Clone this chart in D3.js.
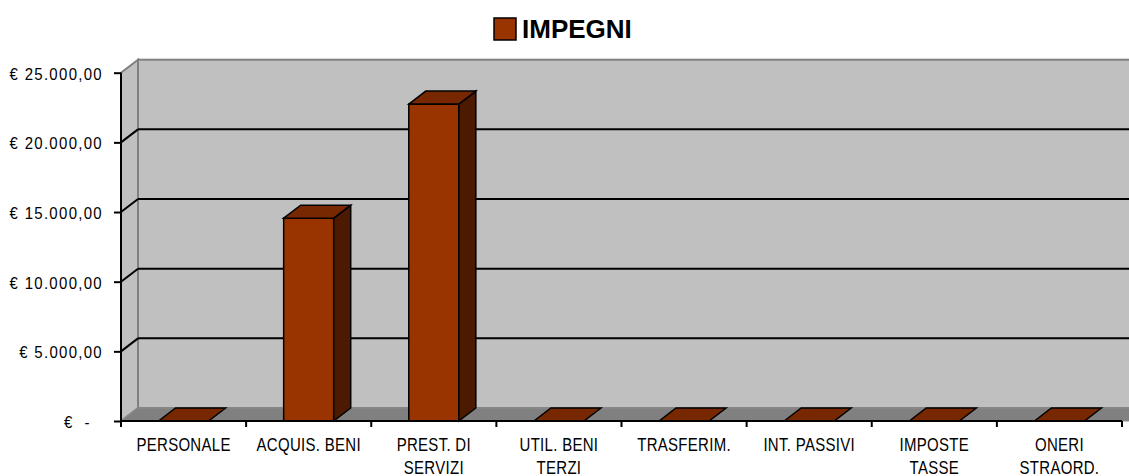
<!DOCTYPE html>
<html>
<head>
<meta charset="utf-8">
<script src="https://cdn.jsdelivr.net/npm/d3@7"></script>
<style>
  body { margin: 0; background: #fff; }
  svg { display: block; font-family: "Liberation Sans", Arial, sans-serif; }
</style>
</head>
<body>
<svg width="1129" height="476"></svg>
<script>
// data
var categories = ['PERSONALE', 'ACQUIS. BENI', 'PREST. DI\nSERVIZI', 'UTIL. BENI\nTERZI',
  'TRASFERIM.', 'INT. PASSIVI', 'IMPOSTE\nTASSE', 'ONERI\nSTRAORD.'];
var impegni = [0, 14560, 22750, 0, 0, 0, 0, 0];
var yTicks = [0, 5000, 10000, 15000, 20000, 25000];
var seriesName = 'IMPEGNI';

var svg = d3.select('svg');

var plot = {l: 121, r: 1122, t: 72.7, b: 421};
var depth = {dx: 17, dy: 13};

var colFront = '#993300';
var colTop = '#772800';
var colSide = '#4c1a00';

var x = d3.scaleBand()
  .domain(categories)
  .range([plot.l, plot.r])
  .padding(0);

var y = d3.scaleLinear()
  .domain([0, 25000])
  .range([plot.b, plot.t]);

var barW = x.bandwidth() * 0.4;

function fmt(v) {
  if (v === 0) return '€ -';
  return '€ ' + d3.format(',.2f')(v).replace(/,/g, 'X').replace('.', ',').replace(/X/g, '.');
}

// ---- walls ----
var walls = svg.append('g');

// back wall
walls.append('rect')
  .attr('x', plot.l + depth.dx)
  .attr('y', plot.t - depth.dy)
  .attr('width', plot.r - plot.l + 20)
  .attr('height', plot.b - plot.t)
  .attr('fill', '#c0c0c0')
  .attr('stroke', '#808080')
  .attr('stroke-width', 2);

// side wall
walls.append('polygon')
  .attr('points', [
    [plot.l, plot.t], [plot.l + depth.dx, plot.t - depth.dy],
    [plot.l + depth.dx, plot.b - depth.dy], [plot.l, plot.b]
  ].join(' '))
  .attr('fill', '#c0c0c0')
  .attr('stroke', '#808080')
  .attr('stroke-width', 2);

// floor
walls.append('polygon')
  .attr('points', [
    [plot.l, plot.b], [plot.l + depth.dx, plot.b - depth.dy],
    [plot.r + depth.dx + 20, plot.b - depth.dy], [plot.r + 20, plot.b]
  ].join(' '))
  .attr('fill', '#808080')
  .attr('stroke', '#8c8c8c')
  .attr('stroke-width', 1);

// gridlines (back wall + side wall)
var grid = walls.selectAll('.grid')
  .data(yTicks.filter(function(d) { return d > 0 && d < 25000; }))
  .enter().append('g')
  .attr('class', 'grid');

grid.append('line')
  .attr('x1', plot.l + depth.dx)
  .attr('x2', 1129)
  .attr('y1', function(d) { return y(d) - depth.dy; })
  .attr('y2', function(d) { return y(d) - depth.dy; })
  .attr('stroke', '#000')
  .attr('stroke-width', 2);

grid.append('line')
  .attr('x1', plot.l)
  .attr('x2', plot.l + depth.dx)
  .attr('y1', function(d) { return y(d); })
  .attr('y2', function(d) { return y(d) - depth.dy; })
  .attr('stroke', '#000')
  .attr('stroke-width', 2);

// ---- bars ----
var bars = svg.append('g').selectAll('g')
  .data(categories.map(function(c, i) { return {cat: c, value: impegni[i]}; }))
  .enter().append('g');

bars.each(function(d) {
  var g = d3.select(this);
  var x0 = x(d.cat) + (x.bandwidth() - barW) / 2;
  var x1 = x0 + barW;
  var yv = y(d.value);
  var y0 = y(0);
  if (d.value > 0) {
    g.append('rect')
      .attr('x', x0).attr('y', yv)
      .attr('width', barW).attr('height', y0 - yv)
      .attr('fill', colFront).attr('stroke', '#000').attr('stroke-width', 1.5);
    g.append('polygon')
      .attr('points', [[x1, yv], [x1 + depth.dx, yv - depth.dy], [x1 + depth.dx, y0 - depth.dy], [x1, y0]].join(' '))
      .attr('fill', colSide).attr('stroke', '#000').attr('stroke-width', 1.5);
  }
  g.append('polygon')
    .attr('points', [[x0, yv], [x0 + depth.dx, yv - depth.dy], [x1 + depth.dx, yv - depth.dy], [x1, yv]].join(' '))
    .attr('fill', colTop).attr('stroke', '#000').attr('stroke-width', 1.5);
});

// ---- axes ----
var yAxis = svg.append('g')
  .attr('transform', 'translate(' + plot.l + ',0)')
  .call(d3.axisLeft(y).tickValues(yTicks).tickSize(7).tickPadding(0).tickFormat(fmt));

yAxis.select('.domain').attr('stroke', '#000').attr('stroke-width', 2)
  .attr('d', 'M0,' + plot.t + 'V' + plot.b);
yAxis.selectAll('.tick line').attr('stroke', '#000').attr('stroke-width', 2);
yAxis.selectAll('.tick text')
  .attr('x', null).attr('dy', null)
  .attr('fill', '#000')
  .style('font-size', '15px')
  .style('letter-spacing', '1.3px')
  .attr('text-anchor', function(d) { return d === 0 ? 'start' : 'end'; })
  .attr('transform', function(d) {
    var tx = d === 0 ? 64 - plot.l : 103 - plot.l;
    return 'translate(' + tx + ',6.6) scale(1,1.12)';
  })
  .text(function(d) { return d === 0 ? '€  -' : fmt(d); })
  .style('white-space', 'pre');

var xAxis = svg.append('g')
  .attr('transform', 'translate(0,' + plot.b + ')');

xAxis.append('line')
  .attr('x1', plot.l).attr('x2', plot.r)
  .attr('stroke', '#000').attr('stroke-width', 2);

xAxis.selectAll('.tk')
  .data(d3.range(categories.length + 1))
  .enter().append('line')
  .attr('class', 'tk')
  .attr('x1', function(i) { return plot.l + i * x.bandwidth(); })
  .attr('x2', function(i) { return plot.l + i * x.bandwidth(); })
  .attr('y1', 0).attr('y2', 6)
  .attr('stroke', '#000').attr('stroke-width', 2);

var labels = xAxis.selectAll('.lbl')
  .data(categories)
  .enter().append('text')
  .attr('class', 'lbl')
  .attr('text-anchor', 'middle')
  .attr('fill', '#000')
  .style('font-size', '15px')
  .style('letter-spacing', '0.3px')
  .attr('transform', function(d) {
    return 'translate(' + (x(d) + x.bandwidth() / 2) + ',29.5) scale(1,1.2)';
  });

labels.selectAll('tspan')
  .data(function(d) { return d.split('\n'); })
  .enter().append('tspan')
  .attr('x', 0)
  .attr('y', function(d, i) { return i * 20; })
  .text(function(d) { return d; });

// ---- legend ----
var legend = svg.append('g');
legend.append('rect')
  .attr('x', 494).attr('y', 18)
  .attr('width', 22).attr('height', 22)
  .attr('fill', colFront)
  .attr('stroke', '#000')
  .attr('stroke-width', 1.5);
legend.append('text')
  .attr('x', 522).attr('y', 38.3)
  .attr('fill', '#000')
  .style('font-size', '26px')
  .style('font-weight', 'bold')
  .text(seriesName);
</script>
</body>
</html>
